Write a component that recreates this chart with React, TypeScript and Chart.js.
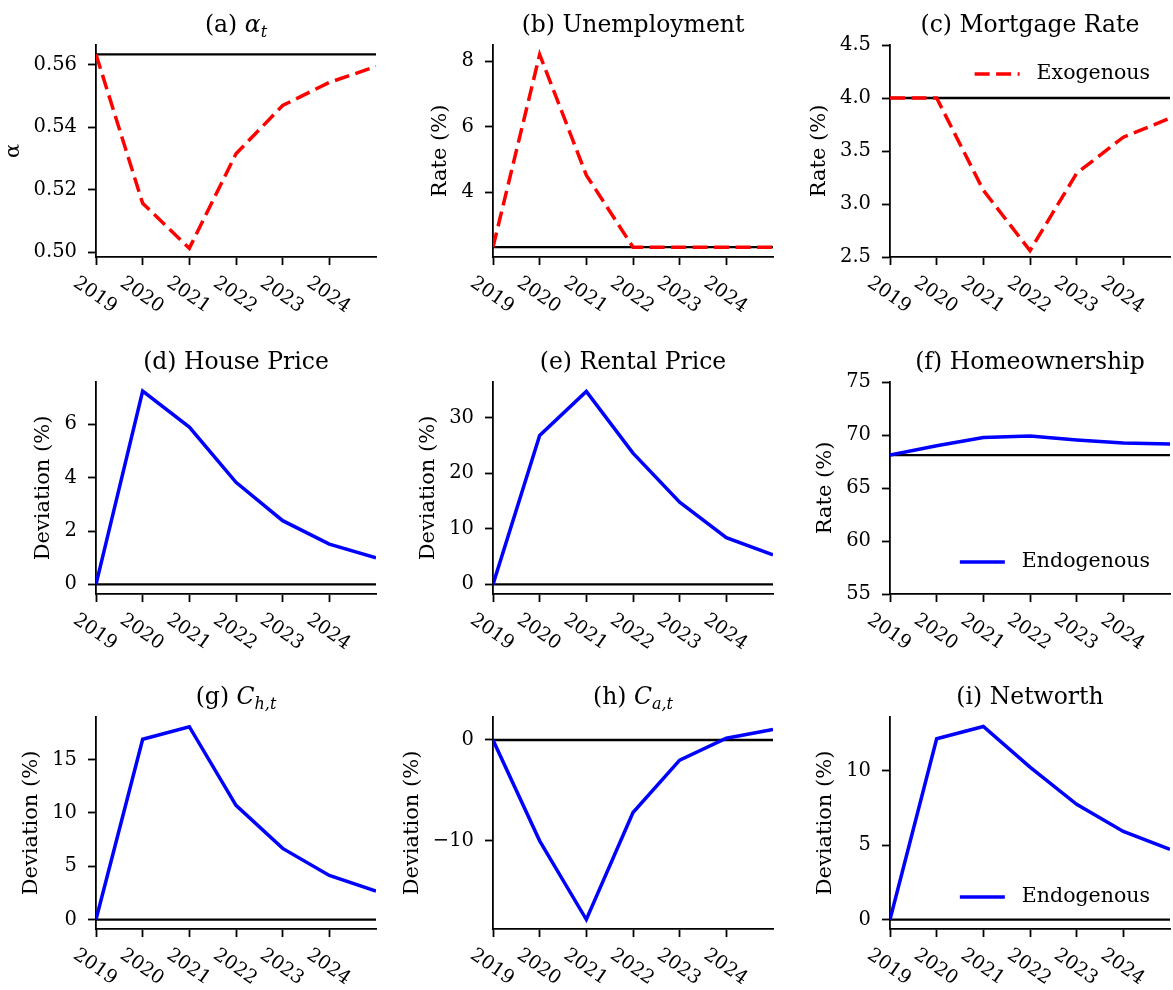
import { useEffect, useRef } from "react"
import { Chart, registerables } from "chart.js"

Chart.register(...registerables)

// years on the x axis (data runs one year past the last labelled tick)
const years = [2019, 2020, 2021, 2022, 2023, 2024, 2025]
const yearTicks = [2019, 2020, 2021, 2022, 2023, 2024]

// exogenous paths
const alphaPath = [0.5634, 0.5156, 0.5012, 0.5315, 0.547, 0.5544, 0.5595]
const unemploymentPath = [2.32, 8.2, 4.52, 2.32, 2.32, 2.32, 2.32]
const mortgagePath = [4.0, 4.0, 3.13, 2.56, 3.29, 3.63, 3.81]

// endogenous responses
const housePricePath = [0, 7.25, 5.9, 3.83, 2.39, 1.51, 1.0]
const rentalPricePath = [0, 26.8, 34.7, 23.6, 14.8, 8.4, 5.3]
const homeownershipPath = [68.1, 68.99, 69.77, 69.9, 69.53, 69.24, 69.15]
const chPath = [0, 16.9, 18.07, 10.71, 6.67, 4.13, 2.66]
const caPath = [0, -10.0, -17.8, -7.19, -1.99, 0.17, 1.05]
const networthPath = [0, 12.16, 12.98, 10.25, 7.75, 5.93, 4.73]

// steady state reference levels
const alphaSteady = 0.5634
const unemploymentSteady = 2.32
const mortgageSteady = 4.0
const homeownershipSteady = 68.1
const deviationSteady = 0

// y tick labels
const alphaTicks = [0.5, 0.52, 0.54, 0.56]
const unemploymentTicks = [4, 6, 8]
const mortgageTicks = [2.5, 3.0, 3.5, 4.0, 4.5]
const housePriceTicks = [0, 2, 4, 6]
const rentalPriceTicks = [0, 10, 20, 30]
const homeownershipTicks = [55, 60, 65, 70, 75]
const chTicks = [0, 5, 10, 15]
const caTicks = [-10, 0]
const networthTicks = [0, 5, 10]

const FONT = "'DejaVu Serif', 'Liberation Serif', serif"
const RED = "#ff0000"
const BLUE = "#0000ff"

type Seg = { text: string; italic?: boolean; sub?: boolean }

type Panel = {
  title: Seg[]
  yTitle: string
  path: number[]
  steady: number
  exo: boolean
  yMin: number
  yMax: number
  yTicks: number[]
  decimals: number
  legend?: "top" | "bottom"
}

const panels: Panel[] = [
  {
    title: [{ text: "(a) " }, { text: "α", italic: true }, { text: "t", italic: true, sub: true }],
    yTitle: "α",
    path: alphaPath,
    steady: alphaSteady,
    exo: true,
    yMin: 0.4984,
    yMax: 0.5664,
    yTicks: alphaTicks,
    decimals: 2,
  },
  {
    title: [{ text: "(b) Unemployment" }],
    yTitle: "Rate (%)",
    path: unemploymentPath,
    steady: unemploymentSteady,
    exo: true,
    yMin: 2.02,
    yMax: 8.49,
    yTicks: unemploymentTicks,
    decimals: 0,
  },
  {
    title: [{ text: "(c) Mortgage Rate" }],
    yTitle: "Rate (%)",
    path: mortgagePath,
    steady: mortgageSteady,
    exo: true,
    yMin: 2.5,
    yMax: 4.5,
    yTicks: mortgageTicks,
    decimals: 1,
    legend: "top",
  },
  {
    title: [{ text: "(d) House Price" }],
    yTitle: "Deviation (%)",
    path: housePricePath,
    steady: deviationSteady,
    exo: false,
    yMin: -0.36,
    yMax: 7.59,
    yTicks: housePriceTicks,
    decimals: 0,
  },
  {
    title: [{ text: "(e) Rental Price" }],
    yTitle: "Deviation (%)",
    path: rentalPricePath,
    steady: deviationSteady,
    exo: false,
    yMin: -1.73,
    yMax: 36.4,
    yTicks: rentalPriceTicks,
    decimals: 0,
  },
  {
    title: [{ text: "(f) Homeownership" }],
    yTitle: "Rate (%)",
    path: homeownershipPath,
    steady: homeownershipSteady,
    exo: false,
    yMin: 55,
    yMax: 75,
    yTicks: homeownershipTicks,
    decimals: 0,
    legend: "bottom",
  },
  {
    title: [{ text: "(g) " }, { text: "C", italic: true }, { text: "h,t", italic: true, sub: true }],
    yTitle: "Deviation (%)",
    path: chPath,
    steady: deviationSteady,
    exo: false,
    yMin: -0.88,
    yMax: 18.98,
    yTicks: chTicks,
    decimals: 0,
  },
  {
    title: [{ text: "(h) " }, { text: "C", italic: true }, { text: "a,t", italic: true, sub: true }],
    yTitle: "Deviation (%)",
    path: caPath,
    steady: deviationSteady,
    exo: false,
    yMin: -18.74,
    yMax: 2.28,
    yTicks: caTicks,
    decimals: 0,
  },
  {
    title: [{ text: "(i) Networth" }],
    yTitle: "Deviation (%)",
    path: networthPath,
    steady: deviationSteady,
    exo: false,
    yMin: -0.63,
    yMax: 13.62,
    yTicks: networthTicks,
    decimals: 0,
    legend: "bottom",
  },
]

const PLOT_W = 280
const PLOT_H = 212
const Y_AXIS_W = 96
const X_AXIS_H = 58
const TITLE_H = 45
const CANVAS_W = Y_AXIS_W + PLOT_W + 2
const CANVAS_H = TITLE_H + PLOT_H + X_AXIS_H
const colLefts = [96, 493, 890]
const rowTops = [45, 382, 717]

function fmt(v: number, decimals: number) {
  return v.toFixed(decimals).replace("-", "\u2212")
}

function decor(panel: Panel) {
  return {
    id: "decor",
    afterDraw(chart: Chart) {
      const { ctx, chartArea: a } = chart
      ctx.save()
      ctx.fillStyle = "#000"

      // panel title with italic / subscript parts
      const parts = panel.title.map((s) => {
        const font = `${s.italic ? "italic " : ""}${s.sub ? 16 : 23.5}px ${FONT}`
        ctx.font = font
        return { ...s, font, w: ctx.measureText(s.text).width }
      })
      const total = parts.reduce((acc, p) => acc + p.w, 0)
      let tx = (a.left + a.right) / 2 - total / 2
      ctx.textAlign = "left"
      ctx.textBaseline = "alphabetic"
      for (const p of parts) {
        ctx.font = p.font
        ctx.fillText(p.text, tx, a.top - 13 + (p.sub ? 5 : 0))
        tx += p.w
      }

      // y axis title, placed next to the widest tick label
      const yScale = chart.scales.y
      ctx.font = `19px ${FONT}`
      const maxW = Math.max(...yScale.ticks.map((t) => ctx.measureText(String(t.label)).width))
      const yx = a.left - 8 - 11 - maxW - 21
      ctx.save()
      ctx.translate(yx, (a.top + a.bottom) / 2)
      ctx.rotate(-Math.PI / 2)
      ctx.font = `21px ${FONT}`
      ctx.textAlign = "center"
      ctx.textBaseline = "middle"
      ctx.fillText(panel.yTitle, 0, 0)
      ctx.restore()

      // rotated year labels
      const xScale = chart.scales.x
      ctx.font = `19px ${FONT}`
      ctx.textAlign = "center"
      ctx.textBaseline = "middle"
      for (const t of xScale.ticks) {
        const px = xScale.getPixelForValue(t.value)
        ctx.save()
        ctx.translate(px - 1, a.bottom + 38)
        ctx.rotate((35 * Math.PI) / 180)
        ctx.fillText(String(t.value), 0, 0)
        ctx.restore()
      }

      // legend, right aligned inside the plot
      if (panel.legend) {
        const ds: any = chart.data.datasets[0]
        const ly = panel.legend === "top" ? a.top + 29 : a.bottom - 32
        ctx.font = `20.5px ${FONT}`
        const textW = ctx.measureText(ds.label).width
        const textX = a.right - 20 - textW
        ctx.strokeStyle = ds.borderColor
        ctx.lineWidth = ds.borderWidth
        ctx.lineCap = "butt"
        ctx.setLineDash(ds.borderDash || [])
        ctx.beginPath()
        ctx.moveTo(textX - 62, ly)
        ctx.lineTo(textX - 17, ly)
        ctx.stroke()
        ctx.setLineDash([])
        ctx.textAlign = "left"
        ctx.textBaseline = "middle"
        ctx.fillText(ds.label, textX, ly)
      }
      ctx.restore()
    },
  }
}

const axisGrid = {
  display: true,
  drawOnChartArea: false,
  drawTicks: true,
  tickLength: 8,
  tickWidth: 1.8,
  tickColor: "#000",
  color: "#000",
}
const axisBorder = { display: true, color: "#000", width: 1.8 }

function PanelChart({ panel, left, top }: { panel: Panel; left: number; top: number }) {
  const chartRef = useRef<HTMLCanvasElement>(null)
  const chartInstance = useRef<Chart | null>(null)

  useEffect(() => {
    if (!chartRef.current) return
    if (chartInstance.current) chartInstance.current.destroy()
    const ctx = chartRef.current.getContext("2d")
    if (!ctx) return

    chartInstance.current = new Chart(ctx, {
      type: "line",
      data: {
        datasets: [
          {
            label: panel.exo ? "Exogenous" : "Endogenous",
            data: years.map((x, i) => ({ x, y: panel.path[i] })),
            borderColor: panel.exo ? RED : BLUE,
            borderWidth: 3.5,
            borderDash: panel.exo ? [15, 6.5] : [],
            borderCapStyle: "butt",
            pointRadius: 0,
            tension: 0,
          },
          {
            label: "Steady state",
            data: years.map((x) => ({ x, y: panel.steady })),
            borderColor: "#000",
            borderWidth: 2.4,
            pointRadius: 0,
            tension: 0,
          },
        ],
      },
      options: {
        animation: false,
        responsive: false,
        maintainAspectRatio: false,
        layout: { padding: { top: TITLE_H, right: 2, left: 0, bottom: 0 } },
        plugins: {
          legend: { display: false },
          tooltip: { enabled: false },
          title: { display: false },
        },
        scales: {
          x: {
            type: "linear",
            min: 2019,
            max: 2025,
            bounds: "data",
            afterBuildTicks: (s: any) => {
              s.ticks = yearTicks.map((value) => ({ value }))
            },
            afterFit: (s: any) => {
              s.height = X_AXIS_H
              s.paddingLeft = 0
              s.paddingRight = 0
            },
            ticks: { display: false },
            grid: axisGrid,
            border: axisBorder,
          },
          y: {
            type: "linear",
            min: panel.yMin,
            max: panel.yMax,
            bounds: "data",
            afterBuildTicks: (s: any) => {
              s.ticks = panel.yTicks.map((value) => ({ value }))
            },
            afterFit: (s: any) => {
              s.width = Y_AXIS_W
              s.paddingTop = 0
              s.paddingBottom = 0
            },
            ticks: {
              color: "#000",
              padding: 11,
              font: { family: FONT, size: 19.5 },
              callback: (v: any) => fmt(Number(v), panel.decimals),
            },
            grid: axisGrid,
            border: axisBorder,
          },
        },
      },
      plugins: [decor(panel)],
    } as any)

    return () => {
      if (chartInstance.current) {
        chartInstance.current.destroy()
        chartInstance.current = null
      }
    }
  }, [panel])

  return (
    <canvas
      ref={chartRef}
      width={CANVAS_W}
      height={CANVAS_H}
      style={{ position: "absolute", left, top, width: CANVAS_W, height: CANVAS_H }}
    />
  )
}

export default function App() {
  return (
    <div
      style={{
        position: "absolute",
        left: 0,
        top: 0,
        width: 1173,
        height: 990,
        overflow: "hidden",
        background: "#fff",
      }}
    >
      {panels.map((p, i) => (
        <PanelChart
          key={i}
          panel={p}
          left={colLefts[i % 3] - Y_AXIS_W}
          top={rowTops[Math.floor(i / 3)] - TITLE_H}
        />
      ))}
    </div>
  )
}
